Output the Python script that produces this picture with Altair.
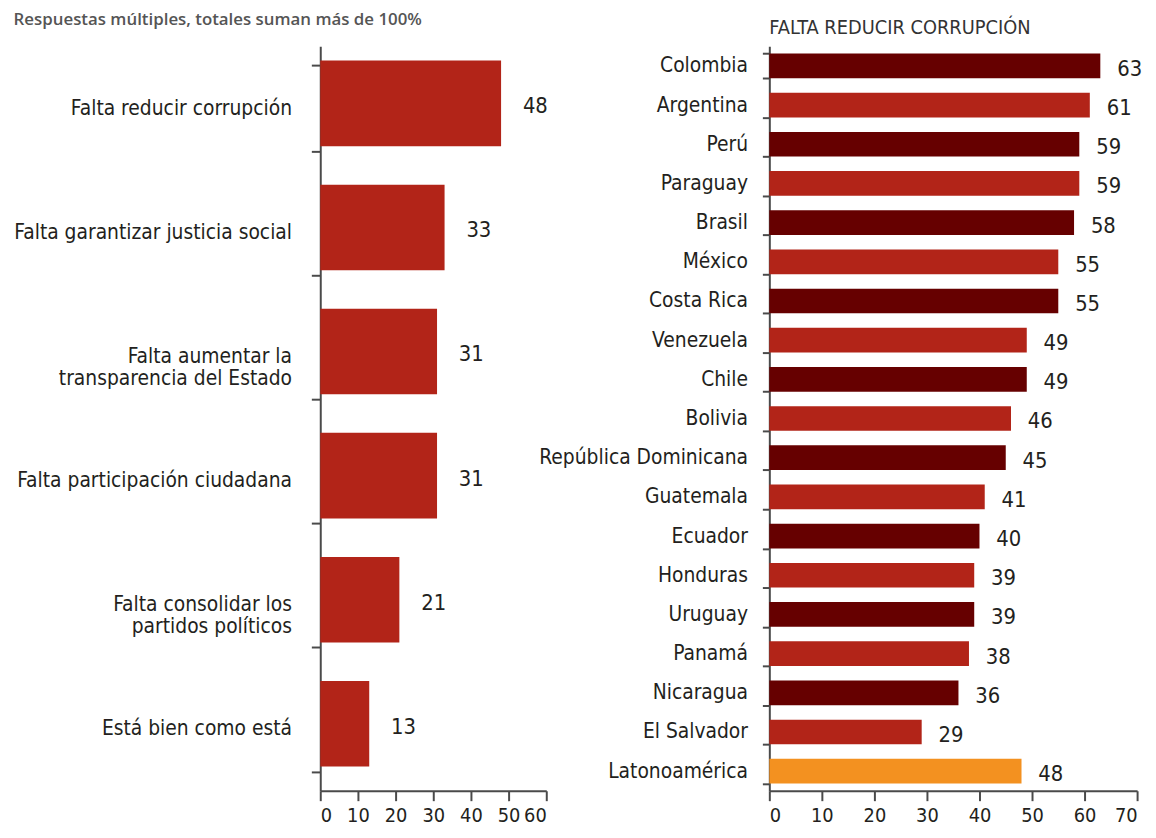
import altair as alt
import pandas as pd

FONT = "Liberation Sans Narrow, DejaVu Sans Condensed, Roboto Condensed, sans-serif"

# Left panel data
reasons = [
    "Falta reducir corrupción",
    "Falta garantizar justicia social",
    "Falta aumentar la|transparencia del Estado",
    "Falta participación ciudadana",
    "Falta consolidar los|partidos políticos",
    "Está bien como está",
]
reason_values = [48, 33, 31, 31, 21, 13]

# Right panel data
countries = [
    "Colombia", "Argentina", "Perú", "Paraguay", "Brasil", "México",
    "Costa Rica", "Venezuela", "Chile", "Bolivia", "República Dominicana",
    "Guatemala", "Ecuador", "Honduras", "Uruguay", "Panamá", "Nicaragua",
    "El Salvador", "Latonoamérica",
]
country_values = [63, 61, 59, 59, 58, 55, 55, 49, 49, 46, 45, 41, 40, 39, 39, 38, 36, 29, 48]

tones = ["Promedio" if c == "Latonoamérica" else ("A" if i % 2 == 0 else "B")
         for i, c in enumerate(countries)]

left_df = pd.DataFrame({"reason": reasons, "value": reason_values})
right_df = pd.DataFrame({"country": countries, "value": country_values, "tone": tones})

AXIS_COLOR = "#4a4a4a"
TEXT_COLOR = "#231f20"
RED = "#b22418"
DARK = "#660000"
ORANGE = "#f39120"

y_left = alt.Y(
    "reason:N", sort=None, title=None,
    scale=alt.Scale(paddingInner=0.31, paddingOuter=0.155),
    axis=alt.Axis(
        labelExpr="split(datum.label, '|')", labelLineHeight=22,
        labelFont=FONT, labelFontSize=21, labelColor=TEXT_COLOR,
        labelPadding=20, tickSize=9, tickBand="extent",
        domainColor=AXIS_COLOR, domainWidth=2, tickColor=AXIS_COLOR, tickWidth=2,
        labelLimit=400,
    ),
)
x_left = alt.X(
    "value:Q", title=None,
    scale=alt.Scale(domain=[0, 60], nice=False),
    axis=alt.Axis(
        values=[0, 10, 20, 30, 40, 50, 60], grid=False,
        labelFont=FONT, labelFontSize=20, labelColor=TEXT_COLOR,
        tickSize=10, labelPadding=5, domainColor=AXIS_COLOR, domainWidth=2,
        tickColor=AXIS_COLOR, tickWidth=2,
    ),
)

left_base = alt.Chart(left_df).encode(y=y_left, x=x_left)
left = alt.layer(
    left_base.mark_bar(color=RED, yOffset=-5),
    left_base.mark_text(align="left", baseline="middle", dx=22, dy=-2,
                        font=FONT, fontSize=22, color=TEXT_COLOR).encode(text="value:Q"),
).properties(
    width=228, height=751,
    title=alt.TitleParams(
        "Respuestas múltiples, totales suman más de 100%", anchor="start",
        frame="bounds", font="Open Sans", fontSize=17, fontWeight=600,
        color="#555555", offset=6,
    ),
)

y_right = alt.Y(
    "country:N", sort=None, title=None,
    scale=alt.Scale(paddingInner=0.37, paddingOuter=0.185),
    axis=alt.Axis(
        labelFont=FONT, labelFontSize=21, labelColor=TEXT_COLOR,
        labelPadding=15, tickSize=7, tickBand="extent",
        domainColor=AXIS_COLOR, domainWidth=2, tickColor=AXIS_COLOR, tickWidth=2,
        labelLimit=400,
    ),
)
x_right = alt.X(
    "value:Q", title=None,
    scale=alt.Scale(domain=[0, 70], nice=False),
    axis=alt.Axis(
        values=[0, 10, 20, 30, 40, 50, 60, 70], grid=False,
        labelFont=FONT, labelFontSize=20, labelColor=TEXT_COLOR,
        tickSize=10, labelPadding=5, domainColor=AXIS_COLOR, domainWidth=2,
        tickColor=AXIS_COLOR, tickWidth=2,
    ),
)

right_base = alt.Chart(right_df).encode(y=y_right, x=x_right)
right = alt.layer(
    right_base.mark_bar().encode(
        color=alt.Color("tone:N", legend=None,
                        scale=alt.Scale(domain=["A", "B", "Promedio"],
                                        range=[DARK, RED, ORANGE]))
    ),
    right_base.mark_text(align="left", baseline="middle", dx=17, dy=3,
                         font=FONT, fontSize=22, color=TEXT_COLOR).encode(text="value:Q"),
).properties(
    width=371, height=751,
    title=alt.TitleParams(
        "FALTA REDUCIR CORRUPCIÓN", anchor="start", frame="group",
        font=FONT, fontSize=20, fontWeight="normal", color="#333333", offset=-3,
    ),
)

chart = alt.hconcat(left, right, spacing=225, bounds="flush").properties(
    padding={"left": 5, "top": 0, "right": 5, "bottom": 5},
).configure_view(stroke=None)

chart.save("out.html", embed_options={"renderer": "svg", "actions": False})
